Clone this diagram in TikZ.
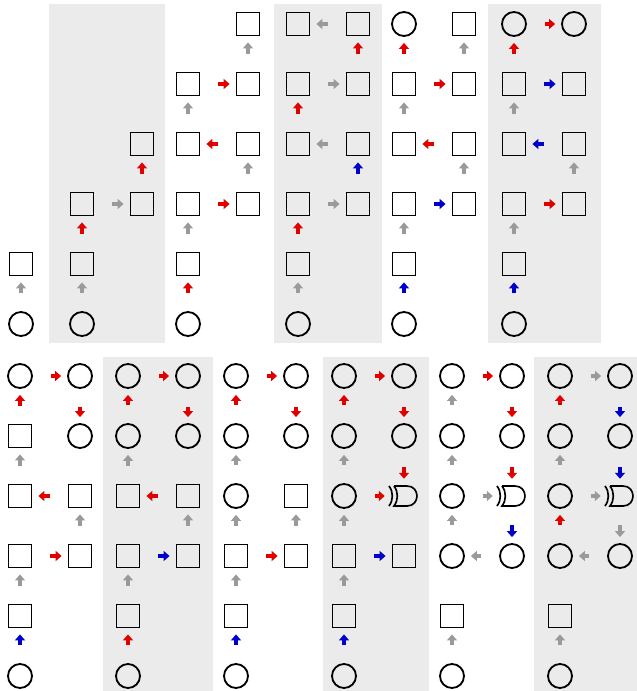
\documentclass[tikz,border=0pt]{standalone}
\usepackage{xcolor}
\usepackage{tikz}
\usetikzlibrary{arrows.meta, calc}
\definecolor{PanelGray}{HTML}{EBEBEB}
\definecolor{StepRed}{HTML}{E00000}
\definecolor{StepBlue}{HTML}{0000C8}
\definecolor{StepGray}{HTML}{9A9A9A}

\newcommand{\xorgate}[1]{%
  \draw[line width=0.05cm, shift={(#1.center)}] (-10,-10) -- (3,-10)
    .. controls (16.3,-10) and (16.3,10) .. (3,10) -- (-10,10)
    .. controls (-5.5,4) and (-5.5,-4) .. (-10,-10);
  \draw[line width=0.05cm, shift={(#1.center)}] (-15,-10) .. controls (-10.5,-4) and (-10.5,4) .. (-15,10);}

\begin{document}
\begin{tikzpicture}[x=0.03cm, y=-0.03cm,
    sq/.style={rectangle, draw=black, line width=0.055cm, minimum size=0.69cm, inner sep=0pt},
    ci/.style={circle, draw=black, line width=0.055cm, minimum size=0.72cm, inner sep=0pt},
    gate/.style={rectangle, minimum width=0.78cm, minimum height=0.66cm, inner sep=0pt},
    go/.style={line width=0.12cm, -{Triangle[length=0.18cm, width=0.3cm]},
      shorten <=0.54cm, shorten >=0.18cm},
    gr/.style={go, draw=StepGray},
    rd/.style={go, draw=StepRed},
    bl/.style={go, draw=StepBlue}
  ]
    \useasboundingbox (0,0) rectangle (637,691);

    \fill[PanelGray] (49,4) rectangle (165,343);
    \fill[PanelGray] (274,4) rectangle (382,343);
    \fill[PanelGray] (488,4) rectangle (601,343);
    \fill[PanelGray] (103,357) rectangle (213,691);
    \fill[PanelGray] (323,357) rectangle (429,691);
    \fill[PanelGray] (534,357) rectangle (637,691);

    % top, panel a
    \node[sq] (a-l5) at (21,264) {};
    \node[ci] (a-l6) at (21,324) {};
    \draw[gr] (a-l6) -- (a-l5);

    % top, panel b
    \node[ci] (b-l6) at (82,324) {};
    \node[sq] (b-l5) at (82,264) {};
    \node[sq] (b-l4) at (82,204) {};
    \node[sq] (b-r4) at (142,204) {};
    \node[sq] (b-r3) at (142,144) {};
    \draw[gr] (b-l6) -- (b-l5);
    \draw[rd] (b-l5) -- (b-l4);
    \draw[gr] (b-l4) -- (b-r4);
    \draw[rd] (b-r4) -- (b-r3);

    % top, panel c
    \node[ci] (c-l6) at (188,324) {};
    \node[sq] (c-l5) at (188,264) {};
    \node[sq] (c-l4) at (188,204) {};
    \node[sq] (c-l3) at (188,144) {};
    \node[sq] (c-l2) at (188,84) {};
    \node[sq] (c-r4) at (248,204) {};
    \node[sq] (c-r3) at (248,144) {};
    \node[sq] (c-r2) at (248,84) {};
    \node[sq] (c-r1) at (248,24) {};
    \draw[rd] (c-l6) -- (c-l5);
    \draw[gr] (c-l5) -- (c-l4);
    \draw[gr] (c-l3) -- (c-l2);
    \draw[gr] (c-r4) -- (c-r3);
    \draw[gr] (c-r2) -- (c-r1);
    \draw[rd] (c-l4) -- (c-r4);
    \draw[rd] (c-r3) -- (c-l3);
    \draw[rd] (c-l2) -- (c-r2);

    % top, panel d
    \node[ci] (d-l6) at (298,324) {};
    \node[sq] (d-l5) at (298,264) {};
    \node[sq] (d-l4) at (298,204) {};
    \node[sq] (d-l3) at (298,144) {};
    \node[sq] (d-l2) at (298,84) {};
    \node[sq] (d-l1) at (298,24) {};
    \node[sq] (d-r4) at (358,204) {};
    \node[sq] (d-r3) at (358,144) {};
    \node[sq] (d-r2) at (358,84) {};
    \node[sq] (d-r1) at (358,24) {};
    \draw[gr] (d-l6) -- (d-l5);
    \draw[rd] (d-l5) -- (d-l4);
    \draw[rd] (d-l3) -- (d-l2);
    \draw[bl] (d-r4) -- (d-r3);
    \draw[rd] (d-r2) -- (d-r1);
    \draw[gr] (d-r1) -- (d-l1);
    \draw[gr] (d-l2) -- (d-r2);
    \draw[gr] (d-r3) -- (d-l3);
    \draw[gr] (d-l4) -- (d-r4);

    % top, panel e
    \node[ci] (e-l6) at (404,324) {};
    \node[sq] (e-l5) at (404,264) {};
    \node[sq] (e-l4) at (404,204) {};
    \node[sq] (e-l3) at (404,144) {};
    \node[sq] (e-l2) at (404,84) {};
    \node[ci] (e-l1) at (404,24) {};
    \node[sq] (e-r4) at (464,204) {};
    \node[sq] (e-r3) at (464,144) {};
    \node[sq] (e-r2) at (464,84) {};
    \node[sq] (e-r1) at (464,24) {};
    \draw[bl] (e-l6) -- (e-l5);
    \draw[gr] (e-l5) -- (e-l4);
    \draw[gr] (e-l3) -- (e-l2);
    \draw[rd] (e-l2) -- (e-l1);
    \draw[gr] (e-r4) -- (e-r3);
    \draw[gr] (e-r2) -- (e-r1);
    \draw[rd] (e-l2) -- (e-r2);
    \draw[rd] (e-r3) -- (e-l3);
    \draw[bl] (e-l4) -- (e-r4);

    % top, panel f
    \node[ci] (f-l6) at (514,324) {};
    \node[sq] (f-l5) at (514,264) {};
    \node[sq] (f-l4) at (514,204) {};
    \node[sq] (f-l3) at (514,144) {};
    \node[sq] (f-l2) at (514,84) {};
    \node[ci] (f-l1) at (514,24) {};
    \node[sq] (f-r4) at (574,204) {};
    \node[sq] (f-r3) at (574,144) {};
    \node[sq] (f-r2) at (574,84) {};
    \node[ci] (f-r1) at (574,24) {};
    \draw[bl] (f-l6) -- (f-l5);
    \draw[gr] (f-l5) -- (f-l4);
    \draw[gr] (f-l3) -- (f-l2);
    \draw[rd] (f-l2) -- (f-l1);
    \draw[gr] (f-r4) -- (f-r3);
    \draw[rd] (f-l1) -- (f-r1);
    \draw[bl] (f-l2) -- (f-r2);
    \draw[bl] (f-r3) -- (f-l3);
    \draw[rd] (f-l4) -- (f-r4);

    % bottom, panel g
    \node[ci] (g-l6) at (20,676) {};
    \node[sq] (g-l5) at (20,616) {};
    \node[sq] (g-l4) at (20,556) {};
    \node[sq] (g-l3) at (20,496) {};
    \node[sq] (g-l2) at (20,436) {};
    \node[ci] (g-l1) at (20,376) {};
    \node[ci] (g-r1) at (80,376) {};
    \node[ci] (g-r2) at (80,436) {};
    \node[sq] (g-r3) at (80,496) {};
    \node[sq] (g-r4) at (80,556) {};
    \draw[bl] (g-l6) -- (g-l5);
    \draw[gr] (g-l5) -- (g-l4);
    \draw[gr] (g-l3) -- (g-l2);
    \draw[rd] (g-l2) -- (g-l1);
    \draw[rd] (g-r1) -- (g-r2);
    \draw[gr] (g-r4) -- (g-r3);
    \draw[rd] (g-l1) -- (g-r1);
    \draw[rd] (g-r3) -- (g-l3);
    \draw[rd] (g-l4) -- (g-r4);

    % bottom, panel h
    \node[ci] (h-l6) at (128,676) {};
    \node[sq] (h-l5) at (128,616) {};
    \node[sq] (h-l4) at (128,556) {};
    \node[sq] (h-l3) at (128,496) {};
    \node[ci] (h-l2) at (128,436) {};
    \node[ci] (h-l1) at (128,376) {};
    \node[ci] (h-r1) at (188,376) {};
    \node[ci] (h-r2) at (188,436) {};
    \node[sq] (h-r3) at (188,496) {};
    \node[sq] (h-r4) at (188,556) {};
    \draw[rd] (h-l6) -- (h-l5);
    \draw[gr] (h-l5) -- (h-l4);
    \draw[gr] (h-l3) -- (h-l2);
    \draw[rd] (h-l2) -- (h-l1);
    \draw[rd] (h-r1) -- (h-r2);
    \draw[gr] (h-r4) -- (h-r3);
    \draw[rd] (h-l1) -- (h-r1);
    \draw[rd] (h-r3) -- (h-l3);
    \draw[bl] (h-l4) -- (h-r4);

    % bottom, panel i
    \node[ci] (i-l6) at (236,676) {};
    \node[sq] (i-l5) at (236,616) {};
    \node[sq] (i-l4) at (236,556) {};
    \node[ci] (i-l3) at (236,496) {};
    \node[ci] (i-l2) at (236,436) {};
    \node[ci] (i-l1) at (236,376) {};
    \node[ci] (i-r1) at (296,376) {};
    \node[ci] (i-r2) at (296,436) {};
    \node[sq] (i-r3) at (296,496) {};
    \node[sq] (i-r4) at (296,556) {};
    \draw[bl] (i-l6) -- (i-l5);
    \draw[gr] (i-l5) -- (i-l4);
    \draw[gr] (i-l4) -- (i-l3);
    \draw[gr] (i-l3) -- (i-l2);
    \draw[rd] (i-l2) -- (i-l1);
    \draw[rd] (i-r1) -- (i-r2);
    \draw[gr] (i-r4) -- (i-r3);
    \draw[rd] (i-l1) -- (i-r1);
    \draw[rd] (i-l4) -- (i-r4);

    % bottom, panel j
    \node[ci] (j-l6) at (344,676) {};
    \node[sq] (j-l5) at (344,616) {};
    \node[sq] (j-l4) at (344,556) {};
    \node[ci] (j-l3) at (344,496) {};
    \node[ci] (j-l2) at (344,436) {};
    \node[ci] (j-l1) at (344,376) {};
    \node[ci] (j-r1) at (404,376) {};
    \node[ci] (j-r2) at (404,436) {};
    \node[gate] (j-r3) at (404,496) {};
    \node[sq] (j-r4) at (404,556) {};
    \xorgate{j-r3}
    \draw[bl] (j-l6) -- (j-l5);
    \draw[gr] (j-l5) -- (j-l4);
    \draw[gr] (j-l4) -- (j-l3);
    \draw[gr] (j-l3) -- (j-l2);
    \draw[rd] (j-l2) -- (j-l1);
    \draw[rd] (j-r1) -- (j-r2);
    \draw[rd] (j-r2) -- (j-r3);
    \draw[rd] (j-l1) -- (j-r1);
    \draw[rd] (j-l3) -- (j-r3);
    \draw[bl] (j-l4) -- (j-r4);

    % bottom, panel k
    \node[ci] (k-l6) at (452,676) {};
    \node[sq] (k-l5) at (452,616) {};
    \node[ci] (k-l4) at (452,556) {};
    \node[ci] (k-l3) at (452,496) {};
    \node[ci] (k-l2) at (452,436) {};
    \node[ci] (k-l1) at (452,376) {};
    \node[ci] (k-r1) at (512,376) {};
    \node[ci] (k-r2) at (512,436) {};
    \node[gate] (k-r3) at (512,496) {};
    \node[ci] (k-r4) at (512,556) {};
    \xorgate{k-r3}
    \draw[gr] (k-l6) -- (k-l5);
    \draw[gr] (k-l4) -- (k-l3);
    \draw[gr] (k-l3) -- (k-l2);
    \draw[gr] (k-l2) -- (k-l1);
    \draw[rd] (k-r1) -- (k-r2);
    \draw[rd] (k-r2) -- (k-r3);
    \draw[bl] (k-r3) -- (k-r4);
    \draw[rd] (k-l1) -- (k-r1);
    \draw[gr] (k-l3) -- (k-r3);
    \draw[gr] (k-r4) -- (k-l4);

    % bottom, panel l
    \node[ci] (l-l6) at (560,676) {};
    \node[sq] (l-l5) at (560,616) {};
    \node[ci] (l-l4) at (560,556) {};
    \node[ci] (l-l3) at (560,496) {};
    \node[ci] (l-l2) at (560,436) {};
    \node[ci] (l-l1) at (560,376) {};
    \node[ci] (l-r1) at (620,376) {};
    \node[ci] (l-r2) at (620,436) {};
    \node[gate] (l-r3) at (620,496) {};
    \node[ci] (l-r4) at (620,556) {};
    \xorgate{l-r3}
    \draw[gr] (l-l6) -- (l-l5);
    \draw[rd] (l-l4) -- (l-l3);
    \draw[gr] (l-l3) -- (l-l2);
    \draw[rd] (l-l2) -- (l-l1);
    \draw[bl] (l-r1) -- (l-r2);
    \draw[bl] (l-r2) -- (l-r3);
    \draw[gr] (l-r3) -- (l-r4);
    \draw[gr] (l-l1) -- (l-r1);
    \draw[gr] (l-l3) -- (l-r3);
    \draw[gr] (l-r4) -- (l-l4);
  \end{tikzpicture}
\end{document}
